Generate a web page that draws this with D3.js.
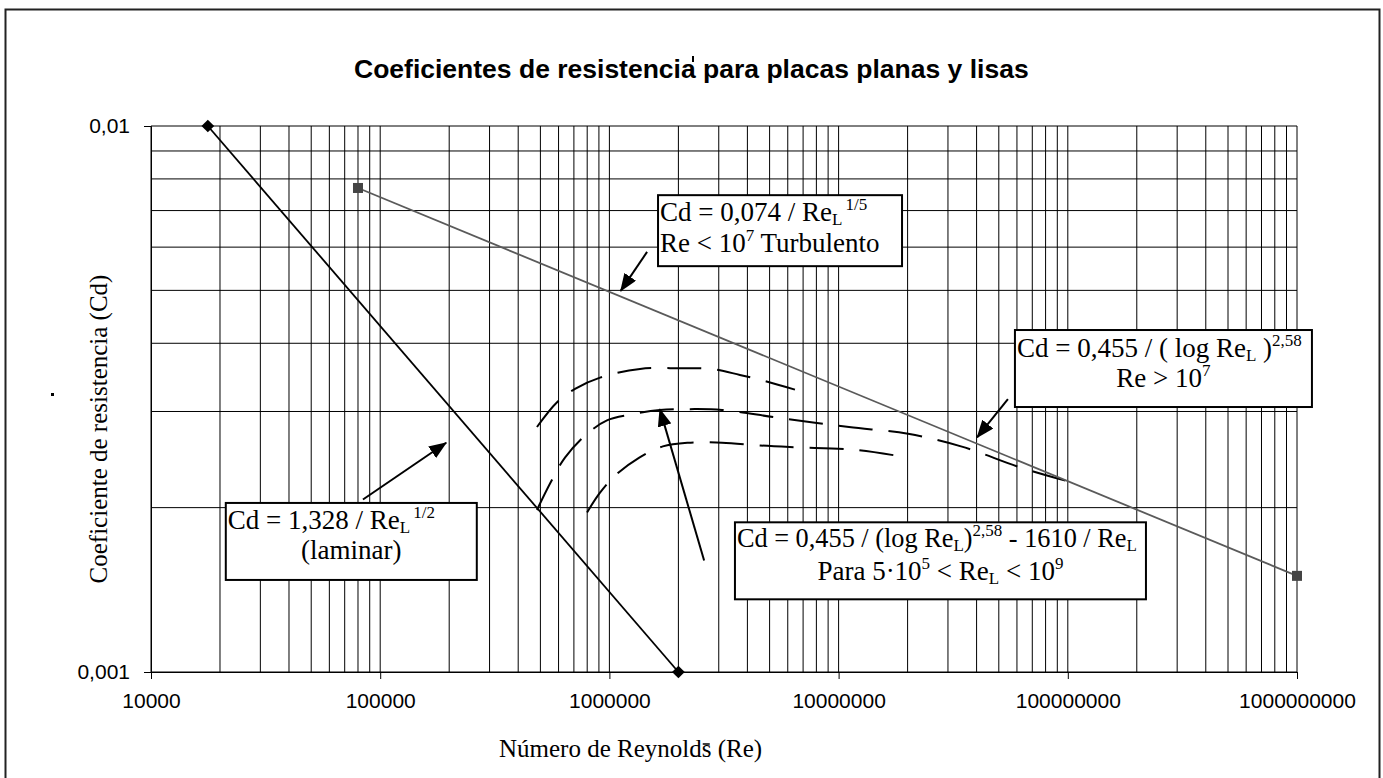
<!DOCTYPE html>
<html>
<head>
<meta charset="utf-8">
<script src="https://cdn.jsdelivr.net/npm/d3@7"></script>
<style>
  body { margin: 0; background: #fff; }
  svg { display: block; }
</style>
</head>
<body>
<svg id="chart" width="1383" height="778"></svg>
<script>
// ---- Data: Reynolds number vs drag coefficient ----
const laminarRe = [17700, 2000000];
const laminarCd = [0.01, 0.001];

const turbulentRe = [80000, 1000000000];
const turbulentCd = [0.0077, 0.0015];

// Transition curves (dashed)
const transTopRe = [483000, 591000, 708000, 910000, 1360000, 2030000, 2800000, 3710000, 4540000, 6450000];
const transTopCd = [0.00281, 0.00312, 0.0033, 0.00346, 0.00359, 0.0036, 0.00359, 0.0035, 0.00343, 0.00329];

const transMidRe = [483000, 556000, 640000, 799000, 976000, 1230000, 1660000, 2250000, 3100000, 5500000, 11100000, 20100000, 34200000, 61900000, 102000000];
const transMidCd = [0.00198, 0.00223, 0.00247, 0.00273, 0.00289, 0.00296, 0.00302, 0.00303, 0.00302, 0.00292, 0.00281, 0.00273, 0.00259, 0.00237, 0.00223];

const transLowRe = [799000, 910000, 1060000, 1350000, 1710000, 2200000, 3100000, 4540000, 6450000, 12000000, 20100000];
const transLowCd = [0.00196, 0.00213, 0.00229, 0.00247, 0.00259, 0.00263, 0.00263, 0.0026, 0.00258, 0.00255, 0.00247];

const xTickValues = [1e4, 1e5, 1e6, 1e7, 1e8, 1e9];
const xTickLabels = ["10000", "100000", "1000000", "10000000", "100000000", "1000000000"];
const yTickValues = [0.01, 0.001];
const yTickLabels = ["0,01", "0,001"];

const titleText = "Coeficientes de resistencia para placas planas y lisas";
const xTitle = "Número de Reynolds (Re)";
const yTitle = "Coeficiente de resistencia (Cd)";

// ---- Layout ----
const svg = d3.select("#chart");
const plot = { left: 151, right: 1297, top: 126, bottom: 672 };

const x = d3.scaleLog().domain([1e4, 1e9]).range([plot.left, plot.right]);
const y = d3.scaleLog().domain([0.001, 0.01]).range([plot.bottom, plot.top]);

const SANS = "'Liberation Sans', Arial, sans-serif";
const SERIF = "'Liberation Serif', 'Times New Roman', serif";

// Outer chart frame
svg.append("rect")
  .attr("x", 5.5).attr("y", 9.5)
  .attr("width", 1374).attr("height", 800)
  .attr("fill", "#fff").attr("stroke", "#222").attr("stroke-width", 2);

// Title
svg.append("text")
  .attr("x", 354).attr("y", 78)
  .attr("font-family", SANS).attr("font-weight", "bold").attr("font-size", 26.5)
  .attr("fill", "#000")
  .text(titleText);
svg.append("rect").attr("x", 692).attr("y", 56).attr("width", 2).attr("height", 6).attr("fill", "#000");

// ---- Grid ----
const grid = svg.append("g");
grid.selectAll("line.v")
  .data(x.ticks())
  .join("line")
  .attr("x1", d => x(d)).attr("x2", d => x(d))
  .attr("y1", plot.top).attr("y2", plot.bottom)
  .attr("stroke", "#000").attr("stroke-width", 1);
grid.selectAll("line.h")
  .data(y.ticks())
  .join("line")
  .attr("x1", plot.left).attr("x2", plot.right)
  .attr("y1", d => y(d)).attr("y2", d => y(d))
  .attr("stroke", "#000").attr("stroke-width", 1);

// ---- Axes ----
const xAxis = d3.axisBottom(x)
  .tickValues(xTickValues)
  .tickFormat((d, i) => xTickLabels[i])
  .tickSize(7).tickPadding(14);
const gx = svg.append("g").attr("transform", `translate(0,${plot.bottom})`).call(xAxis);
gx.select(".domain").attr("stroke", "#000");
gx.selectAll(".tick line").attr("stroke", "#000");
gx.selectAll(".tick text")
  .attr("font-family", SANS).attr("font-size", 21).attr("fill", "#000");

const yAxis = d3.axisLeft(y)
  .tickValues(yTickValues)
  .tickFormat((d, i) => yTickLabels[i])
  .tickSize(7).tickPadding(14);
const gy = svg.append("g").attr("transform", `translate(${plot.left},0)`).call(yAxis);
gy.select(".domain").attr("stroke", "#000");
gy.selectAll(".tick line").attr("stroke", "#000");
gy.selectAll(".tick text")
  .attr("font-family", SANS).attr("font-size", 21).attr("fill", "#000");

// Axis titles
const xt = svg.append("text")
  .attr("x", 499).attr("y", 757)
  .attr("font-family", SERIF).attr("font-size", 25).attr("fill", "#000")
  .text(xTitle);
// small stroke over the final "s" of "Reynolds"
const sIdx = xTitle.indexOf("s (");
const sPos = xt.node().getStartPositionOfChar(sIdx);
svg.append("line")
  .attr("x1", sPos.x + 1).attr("x2", sPos.x + 8)
  .attr("y1", 744).attr("y2", 744)
  .attr("stroke", "#000").attr("stroke-width", 1.5);

svg.append("text")
  .attr("transform", "translate(107,429) rotate(-90)")
  .attr("text-anchor", "middle")
  .attr("font-family", SERIF).attr("font-size", 25).attr("fill", "#000")
  .text(yTitle);
svg.append("rect").attr("x", 51).attr("y", 393).attr("width", 3).attr("height", 3).attr("fill", "#000");

// ---- Series ----
const zip = (a, b) => a.map((v, i) => [v, b[i]]);
const straight = d3.line().x(d => x(d[0])).y(d => y(d[1]));
const smooth = d3.line().x(d => x(d[0])).y(d => y(d[1])).curve(d3.curveCatmullRom.alpha(0.5));

// Transition (dashed) curves
[[transTopRe, transTopCd], [transMidRe, transMidCd], [transLowRe, transLowCd]].forEach(([re, cd]) => {
  svg.append("path")
    .attr("d", smooth(zip(re, cd)))
    .attr("fill", "none")
    .attr("stroke", "#000")
    .attr("stroke-width", 2)
    .attr("stroke-dasharray", "34,16");
});

// Laminar
const lam = zip(laminarRe, laminarCd);
svg.append("path").attr("d", straight(lam))
  .attr("fill", "none").attr("stroke", "#000").attr("stroke-width", 1.8);
svg.selectAll("path.diamond").data(lam).join("path")
  .attr("transform", d => `translate(${x(d[0])},${y(d[1])}) rotate(45)`)
  .attr("d", "M-4.5,-4.5H4.5V4.5H-4.5Z")
  .attr("fill", "#000");

// Turbulent
const turb = zip(turbulentRe, turbulentCd);
svg.append("path").attr("d", straight(turb))
  .attr("fill", "none").attr("stroke", "#5a5a5a").attr("stroke-width", 1.8);
svg.selectAll("rect.sq").data(turb).join("rect")
  .attr("x", d => x(d[0]) - 5).attr("y", d => y(d[1]) - 5)
  .attr("width", 10).attr("height", 10)
  .attr("fill", "#444");

// ---- Annotations ----
const defs = svg.append("defs");
defs.append("marker")
  .attr("id", "head")
  .attr("markerUnits", "userSpaceOnUse")
  .attr("viewBox", "0 0 18 14")
  .attr("markerWidth", 18).attr("markerHeight", 14)
  .attr("refX", 17).attr("refY", 7)
  .attr("orient", "auto")
  .append("path").attr("d", "M0,0 L18,7 L0,14 Z").attr("fill", "#000");

const arrows = [
  { from: [1460000, 0.00588], to: [1120000, 0.00499] },
  { from: [84100, 0.00207], to: [194000, 0.00263] },
  { from: [2590000, 0.0016], to: [1660000, 0.00303] },
  { from: [54800000, 0.00316], to: [40200000, 0.00269] }
];
svg.selectAll("line.arrow").data(arrows).join("line")
  .attr("x1", d => x(d.from[0])).attr("y1", d => y(d.from[1]))
  .attr("x2", d => x(d.to[0])).attr("y2", d => y(d.to[1]))
  .attr("stroke", "#000").attr("stroke-width", 2)
  .attr("marker-end", "url(#head)");

// Rich text segments: s = normal, sub = subscript, sup = superscript
const boxes = [
  { at: [1630000, 0.00747], w: 244, h: 71,
    lines: [
      { align: "start", dy: 26, size: 27, parts: [["s", "Cd = 0,074 / Re"], ["sub", "L"], ["sup", "1/5", 3]] },
      { align: "start", dy: 57, size: 27, parts: [["s", "Re < 10"], ["sup", "7"], ["s", " Turbulento"]] }
    ] },
  { at: [21200, 0.00204], w: 251, h: 77,
    lines: [
      { align: "start", dy: 26, size: 27, parts: [["s", "Cd = 1,328 / Re"], ["sub", "L"], ["sup", "1/2", 3]] },
      { align: "middle", dy: 56, size: 27, parts: [["s", "(laminar)"]] }
    ] },
  { at: [3530000, 0.00188], w: 411, h: 77,
    lines: [
      { align: "start", dy: 25, size: 26.3, parts: [["s", "Cd = 0,455 / (log Re"], ["sub", "L"], ["s", ")"], ["sup", "2,58"], ["s", " - 1610 / Re"], ["sub", "L"]] },
      { align: "middle", dy: 58, size: 27, parts: [["s", "Para 5·10"], ["sup", "5"], ["s", " < Re"], ["sub", "L"], ["s", " < 10"], ["sup", "9"]] }
    ] },
  { at: [58800000, 0.00423], w: 297, h: 77,
    lines: [
      { align: "start", dy: 27, size: 27, parts: [["s", "Cd = 0,455 / ( log Re"], ["sub", "L"], ["s", " )"], ["sup", "2,58"]] },
      { align: "middle", dy: 57, size: 27, parts: [["s", "Re > 10"], ["sup", "7"]] }
    ] }
];

boxes.forEach(b => {
  const bx = x(b.at[0]), by = y(b.at[1]);
  const g = svg.append("g").attr("transform", `translate(${bx},${by})`);
  g.append("rect")
    .attr("x", 0).attr("y", 0).attr("width", b.w).attr("height", b.h)
    .attr("fill", "#fff").attr("stroke", "#000").attr("stroke-width", 2);
  b.lines.forEach(ln => {
    const t = g.append("text")
      .attr("x", ln.align === "middle" ? b.w / 2 : 2)
      .attr("y", ln.dy)
      .attr("text-anchor", ln.align)
      .attr("font-family", SERIF).attr("font-size", ln.size).attr("fill", "#000");
    let shift = 0;
    ln.parts.forEach(([kind, str, gap]) => {
      const target = kind === "sub" ? 4 : kind === "sup" ? -11 : 0;
      const span = t.append("tspan")
        .attr("dy", target - shift)
        .attr("font-size", kind === "s" ? ln.size : 17)
        .text(str);
      if (gap) span.attr("dx", gap);
      shift = target;
    });
  });
});
</script>
</body>
</html>
